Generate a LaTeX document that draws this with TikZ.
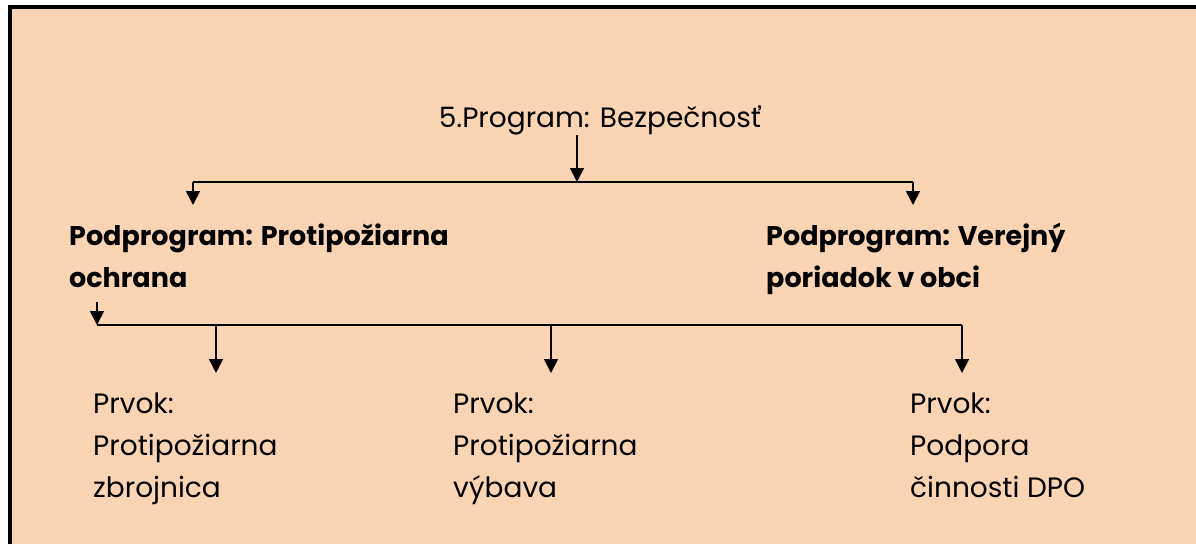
\documentclass[tikz,border=0pt]{standalone}
\usepackage{fontspec}
\setmainfont{Poppins}
\usetikzlibrary{arrows.meta}
\definecolor{peach}{HTML}{FBD4B4}
\begin{document}
\begin{tikzpicture}[x=1pt,y=-1pt,
  txt/.style={inner sep=0pt, align=left, font=\fontsize{28}{42}\selectfont},
  head/.style={txt, font=\fontsize{27}{42}\selectfont\bfseries},
  link/.style={line width=1.6pt},
  arr/.style={link, -{Triangle[length=14pt,width=14pt]}}]
\useasboundingbox (0,0) rectangle (1196,544);
\fill[white] (0,0) rectangle (1196,544);
\fill[peach] (10,7) rectangle (1196,544);
\draw[line width=4pt] (10,544) -- (10,7) -- (1196,7);

% programme
\node[txt, anchor=base] (prog) at (600,127) {5.Program: Bezpečnosť};
\coordinate (t) at (577,182);
\coordinate (bl) at (193,182);
\coordinate (br) at (913,182);
\draw[arr] (prog.south -| t) -- (t);
\draw[link] (bl) -- (br);

% subprogrammes (base = baseline of the last line)
\node[head, anchor=base west] (sub1) at (69,287) {Podprogram: Protipožiarna\\ochrana};
\node[head, anchor=base west] (sub2) at (766,287) {Podprogram: Verejný\\poriadok v obci};
\draw[arr] (bl) -- (bl |- 0,205);
\draw[arr] (br) -- (br |- 0,205);

% elements
\coordinate (s) at (97,302);
\coordinate (c0) at (97,325);
\coordinate (c1) at (216,325);
\coordinate (c2) at (551,325);
\coordinate (c3) at (962,325);
\draw[arr] (s) -- (c0);
\draw[link] (c0) -- (c3);
\node[txt, anchor=base west] (el1) at (93,497) {Prvok:\\Protipožiarna\\zbrojnica};
\node[txt, anchor=base west] (el2) at (453,497) {Prvok:\\Protipožiarna\\výbava};
\node[txt, anchor=base west] (el3) at (910,497) {Prvok:\\Podpora\\činnosti DPO};
\draw[arr] (c1) -- (c1 |- 0,373);
\draw[arr] (c2) -- (c2 |- 0,373);
\draw[arr] (c3) -- (c3 |- 0,373);
\end{tikzpicture}
\end{document}
